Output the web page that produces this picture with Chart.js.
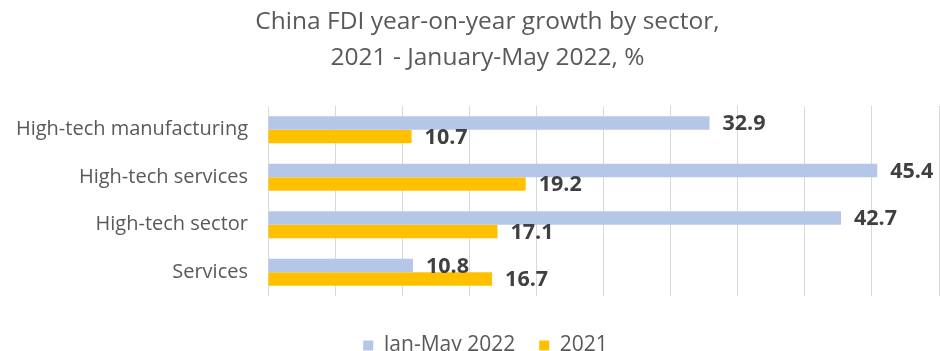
<!DOCTYPE html>
<html>
<head>
<meta charset="utf-8">
<script src="https://cdn.jsdelivr.net/npm/chart.js@4"></script>
<style>
html,body{margin:0;padding:0;background:#fff;}
#wrap{width:940px;height:351px;}
</style>
</head>
<body>
<div id="wrap"><canvas id="c" width="940" height="351"></canvas></div>
<script>
const categories = ['High-tech manufacturing', 'High-tech services', 'High-tech sector', 'Services'];
const seriesJanMay2022 = [32.9, 45.4, 42.7, 10.8];
const series2021 = [10.7, 19.2, 17.1, 16.7];
const seriesNames = ['Jan-May 2022', '2021'];
const titleLines = ['China FDI year-on-year growth by sector,', '2021 - January-May 2022, %'];

const FONT = '"Open Sans", Lato, sans-serif';

const valueLabels = {
  id: 'valueLabels',
  afterDatasetsDraw(chart) {
    const ctx = chart.ctx;
    ctx.save();
    ctx.font = 'bold 21.5px ' + FONT;
    ctx.fillStyle = '#404040';
    ctx.textBaseline = 'middle';
    ctx.textAlign = 'left';
    chart.data.datasets.forEach((ds, di) => {
      const meta = chart.getDatasetMeta(di);
      meta.data.forEach((bar, i) => {
        ctx.fillText(ds.data[i].toFixed(1), bar.x + 13, bar.y + 1);
      });
    });
    ctx.restore();
  }
};

const boxShift = {
  id: 'boxShift',
  afterLayout(chart) {
    if (chart.legend) {
      chart.legend.left += 10;
      chart.legend.right += 10;
    }
    if (chart.titleBlock) {
      chart.titleBlock.left += 12;
      chart.titleBlock.right += 12;
    }
  }
};

new Chart(document.getElementById('c'), {
  type: 'bar',
  data: {
    labels: categories,
    datasets: [
      { label: seriesNames[0], data: seriesJanMay2022, backgroundColor: '#b4c7e7', barPercentage: 1.0, categoryPercentage: 0.57 },
      { label: seriesNames[1], data: series2021, backgroundColor: '#ffc000', barPercentage: 1.0, categoryPercentage: 0.57 }
    ]
  },
  options: {
    indexAxis: 'y',
    responsive: false,
    animation: false,
    layout: { padding: { left: 12, right: 1, top: 0, bottom: -15 } },
    scales: {
      x: {
        min: 0, max: 50,
        ticks: { display: false, stepSize: 5 },
        grid: { color: '#d9d9d9', drawTicks: false, lineWidth: 1 },
        border: { display: false },
        afterFit(s) { s.height = 15; }
      },
      y: {
        ticks: { color: '#595959', font: { size: 20, family: FONT }, padding: 20 },
        grid: { display: false, drawTicks: false },
        border: { display: false },
        afterFit(s) { s.width = 256; }
      }
    },
    plugins: {
      title: {
        display: true,
        text: titleLines,
        color: '#595959',
        font: { size: 24.5, weight: 'normal', family: FONT, lineHeight: 36 / 24.5 },
        padding: { top: 4, bottom: 30 }
      },
      legend: {
        position: 'bottom',
        labels: {
          color: '#595959',
          boxWidth: 10, boxHeight: 10,
          font: { size: 21, family: FONT },
          padding: 24
        }
      },
      tooltip: { enabled: false }
    }
  },
  plugins: [valueLabels, boxShift]
});
</script>
</body>
</html>
